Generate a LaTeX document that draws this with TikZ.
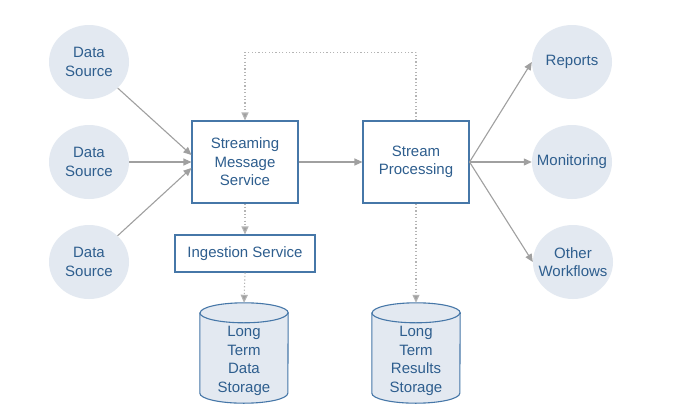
\documentclass[tikz,border=0pt]{standalone}
\usepackage{fontspec}
\setmainfont{Liberation Sans}
\usetikzlibrary{arrows.meta,shapes.geometric}
\definecolor{txt}{HTML}{2E5E8E}
\definecolor{bord}{HTML}{4677A8}
\definecolor{fillc}{HTML}{E3E9F1}
\definecolor{arrc}{HTML}{A0A0A0}
\definecolor{dotc}{HTML}{B4B4B4}
\newcommand\zline[1]{\makebox[0pt]{#1}}
\tikzset{
  lbl/.style={font=\fontsize{15}{18.5}\selectfont, text=txt, align=center},
  circ/.style={lbl, ellipse, fill=fillc, minimum width=80pt, minimum height=74pt, inner sep=0pt},
  boxn/.style={lbl, draw=bord, line width=1.1pt, fill=white, inner sep=0pt},
  cylbox/.style={minimum width=88pt, minimum height=100pt, inner sep=0pt},
  cyl/.style={draw=bord, line width=1.1pt, fill=fillc},
  arr/.style={draw=arrc, line width=1.1pt, -{Triangle[length=8pt,width=7pt]}},
  dotarr/.style={draw=dotc, line width=1.1pt, dash pattern=on 1.2pt off 2.2pt, -{Triangle[length=8pt,width=7pt,fill=arrc]}},
}
\begin{document}
\begin{tikzpicture}[x=1pt,y=1pt]
\fill[white] (0,0) rectangle (683,-413);
\useasboundingbox (0,0) rectangle (683,-413);

% data sources
\node[circ] (ds1) at (89,-62) {\zline{Data}\\\zline{Source}};
\node[circ] (ds2) at (89,-162) {\zline{Data}\\\zline{Source}};
\node[circ] (ds3) at (89,-262) {\zline{Data}\\\zline{Source}};

% central boxes
\node[boxn, minimum width=106pt, minimum height=82pt] (sms) at (245,-162) {Streaming\\Message\\Service};
\node[boxn, minimum width=106pt, minimum height=82pt] (sp) at (416,-162) {Stream\\Processing};
\node[boxn, minimum width=140pt, minimum height=37pt] (ing) at (245,-253.5) {Ingestion Service};

% outputs
\node[circ] (rep) at (572,-62) {\zline{Reports}};
\node[circ] (mon) at (572,-162) {\zline{Monitoring}};
\node[circ] (oth) at (573,-262) {\zline{Other}\\\zline{Workflows}};

% cylinders
\node[cylbox] (c1) at (244,-353) {};
\node[cylbox] (c2) at (416,-353) {};
\foreach \c in {c1,c2}{
  \draw[cyl] ([yshift=-10pt]\c.north west) -- ([yshift=10pt]\c.south west)
    arc[start angle=180, end angle=360, x radius=44pt, y radius=10pt]
    -- ([yshift=-10pt]\c.north east)
    arc[start angle=0, end angle=180, x radius=44pt, y radius=10pt] -- cycle;
  \draw[draw=bord, line width=1.1pt] ([yshift=-10pt]\c.north west)
    arc[start angle=180, end angle=360, x radius=44pt, y radius=10pt];
}
\node[lbl] (c1t) at (244,-361) {Long\\Term\\Data\\Storage};
\node[lbl] (c2t) at (416,-361) {Long\\Term\\Results\\Storage};

% solid arrows
\draw[arr] (ds1) -- ([yshift=7pt]sms.west);
\draw[arr] (ds2) -- (sms.west);
\draw[arr] (ds3) -- ([yshift=-6pt]sms.west);
\draw[arr] (sms.east) -- (sp.west);
\draw[arr] (sp.east) -- (rep.west);
\draw[arr] (sp.east) -- (mon.west);
\draw[arr] (sp.east) -- (oth.west);

% dotted arrows
\draw[dotarr] (sp.north) -- ++(0,68) -| (sms.north);
\draw[dotarr] (sms.south) -- (ing.north);
\draw[dotarr] (ing.south) -- (c1.north);
\draw[dotarr] (sp.south) -- (c2.north);
\end{tikzpicture}
\end{document}
